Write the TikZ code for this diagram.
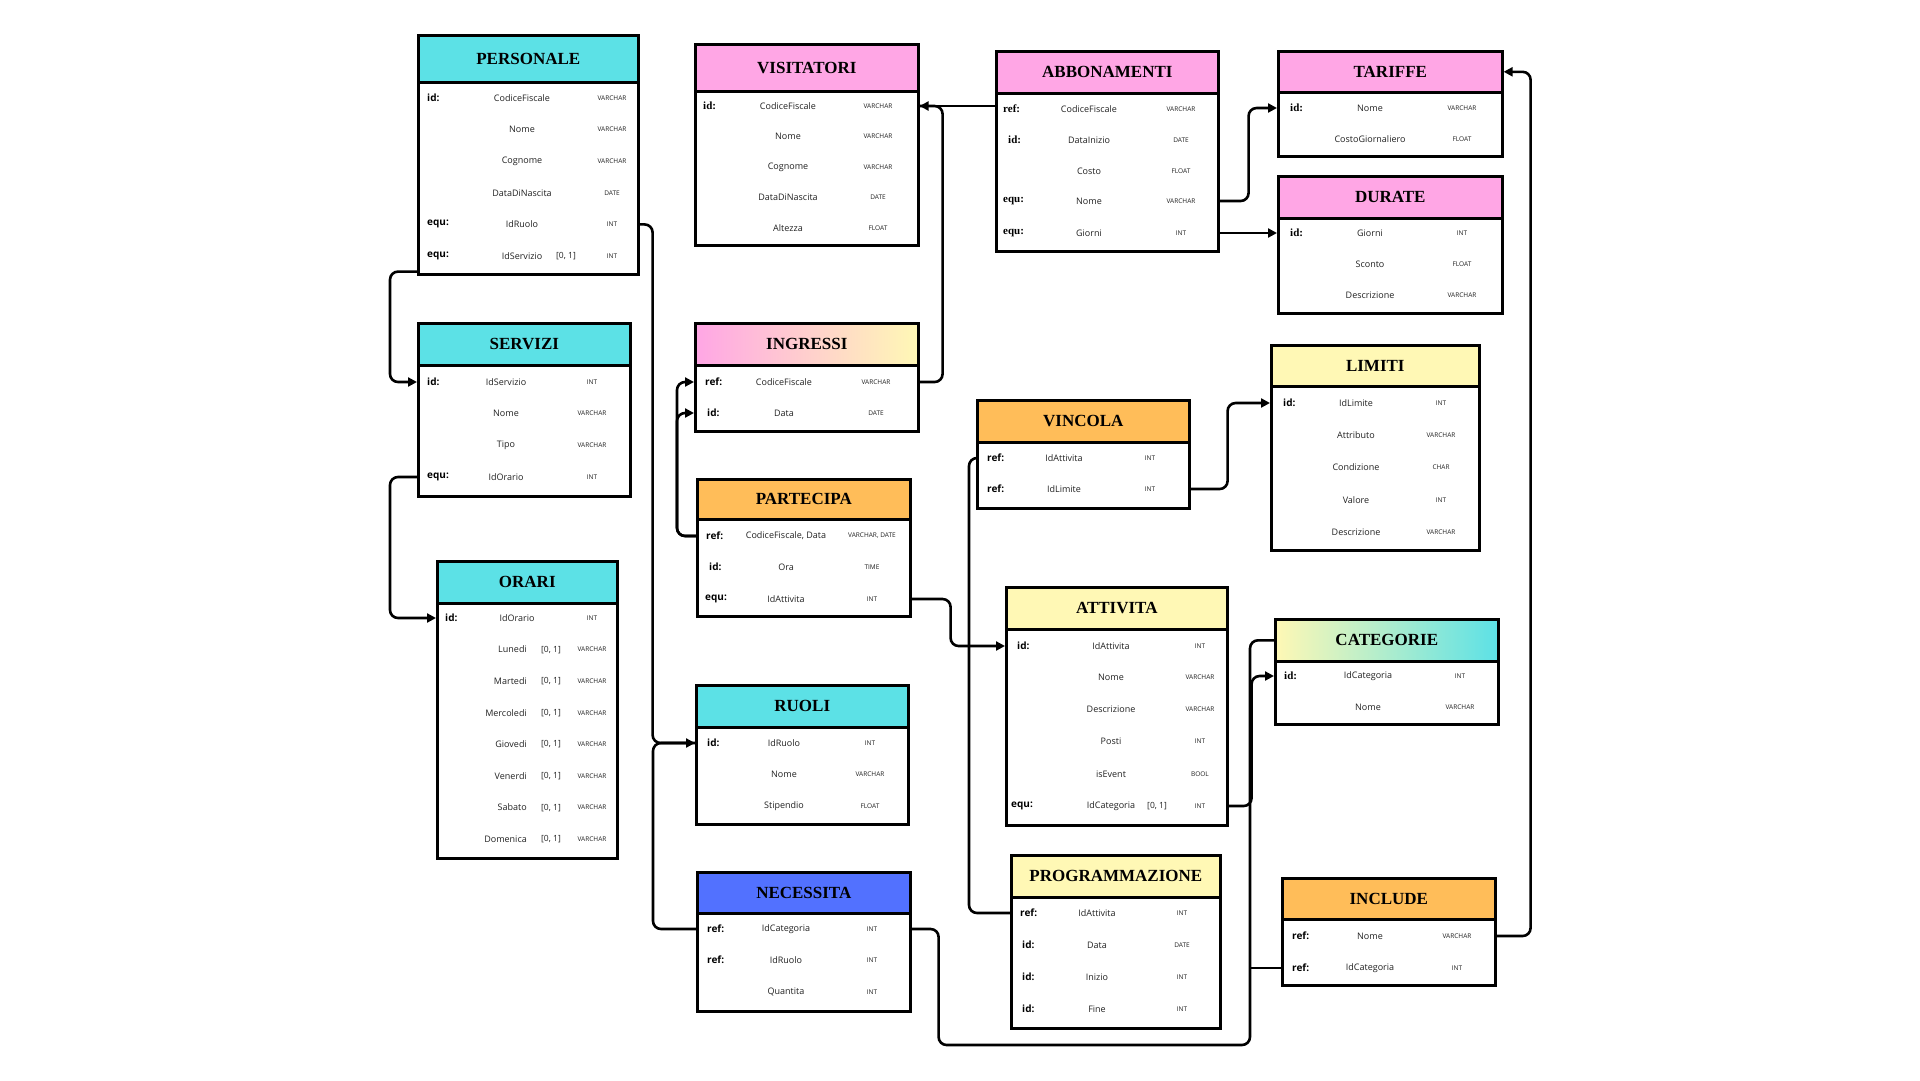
\documentclass[tikz,border=0pt]{standalone}
\usepackage{fontspec}
\setmainfont{Liberation Serif}
\setsansfont{Open Sans}
\usetikzlibrary{arrows.meta}
\definecolor{cyanc}{HTML}{5CE1E6}
\definecolor{pinkc}{HTML}{FFA6E5}
\definecolor{orangec}{HTML}{FFBD59}
\definecolor{yellowc}{HTML}{FFF8B5}
\definecolor{bluec}{HTML}{5271FF}
\definecolor{txtc}{HTML}{222222}
\tikzset{
  hdr/.style={draw=black,line width=2.6pt,inner sep=0pt,font=\rmfamily\bfseries\fontsize{17}{17}\selectfont},
  bodyb/.style={draw=black,fill=white,line width=2.6pt,inner sep=0pt},
  hcyan/.style={fill=cyanc},
  hpink/.style={fill=pinkc},
  horange/.style={fill=orangec},
  hyellow/.style={fill=yellowc},
  hblue/.style={fill=bluec},
  hgradA/.style={left color=pinkc,right color=yellowc},
  hgradB/.style={left color=yellowc,right color=cyanc},
  lbl/.style={inner sep=0pt,anchor=west,text=black,font=\sffamily\bfseries\fontsize{10}{10}\selectfont},
  fld/.style={inner sep=0pt,text=txtc,font=\sffamily\fontsize{9}{9}\selectfont},
  typ/.style={inner sep=0pt,text=txtc,font=\sffamily\fontsize{6.5}{6.5}\selectfont},
  opt/.style={inner sep=0pt,text=txtc,font=\sffamily\fontsize{8.5}{8.5}\selectfont},
  conn/.style={draw=black,line width=2.6pt,rounded corners=8pt},
  arr/.style={-{Triangle[length=9pt,width=9pt]}},
}
% name, left, top, right, header bottom, bottom, fill style, title
\newcommand\tb[8]{%
  \node[hdr,#7,anchor=north west,minimum width={(#4)-(#2)},minimum height={(#5)-(#3)}] (#1-h) at (#2,#3) {#8};
  \node[bodyb,anchor=north west,minimum width={(#4)-(#2)},minimum height={(#6)-(#5)}] (#1) at (#2,#5) {};
}
% name, y, label x, label, field x, field, type x, type
\newcommand\fr[8]{%
  \node[lbl] (#1-l) at (#3,#2) {#4};
  \node[fld] (#1) at (#5,#2) {#6};
  \node[typ] (#1-t) at (#7,#2) {#8};
}
% right-aligned field variant
\newcommand\frr[8]{%
  \node[lbl] (#1-l) at (#3,#2) {#4};
  \node[fld,anchor=east] (#1) at (#5,#2) {#6};
  \node[typ] (#1-t) at (#7,#2) {#8};
}
\newcommand\sr[1]{{\rmfamily\bfseries\fontsize{11}{11}\selectfont #1}}
\begin{document}
\begin{tikzpicture}[x=1pt,y=-1pt]
\useasboundingbox (0,0) rectangle (1920,1080);
\fill[white] (0,0) rectangle (1920,1080);

% ---------- tables ----------
\tb{pers}{417}{34}{637}{81}{273}{hcyan}{PERSONALE}
\fr{pers-1}{98}{427}{id:}{522}{CodiceFiscale}{612}{VARCHAR}
\fr{pers-2}{129.6}{427}{}{522}{Nome}{612}{VARCHAR}
\fr{pers-3}{161.2}{427}{}{522}{Cognome}{612}{VARCHAR}
\fr{pers-4}{192.8}{427}{}{522}{DataDiNascita}{612}{DATE}
\fr{pers-5}{224.4}{427}{equ:}{522}{IdRuolo}{612}{INT}
\fr{pers-6}{256}{427}{equ:}{522}{IdServizio}{612}{INT}
\node[opt] (pers-6-o) at (566,256) {[0, 1]};

\tb{vis}{694}{43}{917}{90}{244}{hpink}{VISITATORI}
\fr{vis-1}{106}{703}{\sr{id:}}{788}{CodiceFiscale}{878}{VARCHAR}
\fr{vis-2}{136.5}{703}{}{788}{Nome}{878}{VARCHAR}
\fr{vis-3}{167}{703}{}{788}{Cognome}{878}{VARCHAR}
\fr{vis-4}{197.5}{703}{}{788}{DataDiNascita}{878}{DATE}
\fr{vis-5}{228}{703}{}{788}{Altezza}{878}{FLOAT}

\tb{abb}{995}{50}{1217}{92}{250}{hpink}{ABBONAMENTI}
\fr{abb-1}{109}{1003}{\sr{ref:}}{1089}{CodiceFiscale}{1181}{VARCHAR}
\fr{abb-2}{140}{1008}{\sr{id:}}{1089}{DataInizio}{1181}{DATE}
\fr{abb-3}{171}{1003}{}{1089}{Costo}{1181}{FLOAT}
\fr{abb-4}{201}{1003}{\sr{equ:}}{1089}{Nome}{1181}{VARCHAR}
\fr{abb-5}{233}{1003}{\sr{equ:}}{1089}{Giorni}{1181}{INT}

\tb{tar}{1277}{50}{1501}{91}{155}{hpink}{TARIFFE}
\fr{tar-1}{108}{1290}{\sr{id:}}{1370}{Nome}{1462}{VARCHAR}
\fr{tar-2}{139}{1290}{}{1370}{CostoGiornaliero}{1462}{FLOAT}

\tb{dur}{1277}{175}{1501}{217}{312}{hpink}{DURATE}
\fr{dur-1}{233}{1290}{\sr{id:}}{1370}{Giorni}{1462}{INT}
\fr{dur-2}{264}{1290}{}{1370}{Sconto}{1462}{FLOAT}
\fr{dur-3}{295}{1290}{}{1370}{Descrizione}{1462}{VARCHAR}

\tb{serv}{417}{322}{629}{364}{495}{hcyan}{SERVIZI}
\fr{serv-1}{382}{427}{id:}{506}{IdServizio}{592}{INT}
\fr{serv-2}{413}{427}{}{506}{Nome}{592}{VARCHAR}
\fr{serv-3}{445}{427}{}{506}{Tipo}{592}{VARCHAR}
\fr{serv-4}{477}{427}{equ:}{506}{IdOrario}{592}{INT}

\tb{ora}{436}{560}{616}{602}{857}{hcyan}{ORARI}
\fr{ora-1}{618}{445}{id:}{517}{IdOrario}{592}{INT}
\frr{ora-2}{649.6}{445}{}{527}{Lunedi}{592}{VARCHAR}
\frr{ora-3}{681.2}{445}{}{527}{Martedi}{592}{VARCHAR}
\frr{ora-4}{712.8}{445}{}{527}{Mercoledi}{592}{VARCHAR}
\frr{ora-5}{744.4}{445}{}{527}{Giovedi}{592}{VARCHAR}
\frr{ora-6}{776}{445}{}{527}{Venerdi}{592}{VARCHAR}
\frr{ora-7}{807.6}{445}{}{527}{Sabato}{592}{VARCHAR}
\frr{ora-8}{839.2}{445}{}{527}{Domenica}{592}{VARCHAR}
\node[opt] (ora-2-o) at (551,649.6) {[0, 1]};
\node[opt] (ora-3-o) at (551,681.2) {[0, 1]};
\node[opt] (ora-4-o) at (551,712.8) {[0, 1]};
\node[opt] (ora-5-o) at (551,744.4) {[0, 1]};
\node[opt] (ora-6-o) at (551,776) {[0, 1]};
\node[opt] (ora-7-o) at (551,807.6) {[0, 1]};
\node[opt] (ora-8-o) at (551,839.2) {[0, 1]};

\tb{ingr}{694}{322}{917}{364}{430}{hgradA}{INGRESSI}
\fr{ingr-1}{382}{705}{ref:}{784}{CodiceFiscale}{876}{VARCHAR}
\fr{ingr-2}{413}{707}{id:}{784}{Data}{876}{DATE}

\tb{part}{696}{478}{909}{518}{615}{horange}{PARTECIPA}
\fr{part-1}{536}{706}{ref:}{786}{CodiceFiscale, Data}{872}{VARCHAR, DATE}
\fr{part-2}{567}{709}{id:}{786}{Ora}{872}{TIME}
\fr{part-3}{599}{705}{equ:}{786}{IdAttivita}{872}{INT}

\tb{ruoli}{695}{684}{907}{726}{823}{hcyan}{RUOLI}
\fr{ruoli-1}{743}{707}{id:}{784}{IdRuolo}{870}{INT}
\fr{ruoli-2}{774}{707}{}{784}{Nome}{870}{VARCHAR}
\fr{ruoli-3}{806}{707}{}{784}{Stipendio}{870}{FLOAT}

\tb{nec}{696}{871}{909}{912}{1010}{hblue}{NECESSITA}
\fr{nec-1}{929}{707}{ref:}{786}{IdCategoria}{872}{INT}
\fr{nec-2}{960}{707}{ref:}{786}{IdRuolo}{872}{INT}
\fr{nec-3}{992}{707}{}{786}{Quantita}{872}{INT}

\tb{vinc}{976}{399}{1188}{441}{507}{horange}{VINCOLA}
\fr{vinc-1}{458}{987}{ref:}{1064}{IdAttivita}{1150}{INT}
\fr{vinc-2}{489}{987}{ref:}{1064}{IdLimite}{1150}{INT}

\tb{lim}{1270}{344}{1478}{385}{549}{hyellow}{LIMITI}
\fr{lim-1}{403}{1283}{id:}{1356}{IdLimite}{1441}{INT}
\fr{lim-2}{435}{1283}{}{1356}{Attributo}{1441}{VARCHAR}
\fr{lim-3}{467}{1283}{}{1356}{Condizione}{1441}{CHAR}
\fr{lim-4}{500}{1283}{}{1356}{Valore}{1441}{INT}
\fr{lim-5}{532}{1283}{}{1356}{Descrizione}{1441}{VARCHAR}

\tb{att}{1005}{586}{1226}{628}{824}{hyellow}{ATTIVITA}
\fr{att-1}{646}{1017}{id:}{1111}{IdAttivita}{1200}{INT}
\fr{att-2}{677}{1014}{}{1111}{Nome}{1200}{VARCHAR}
\fr{att-3}{709}{1014}{}{1111}{Descrizione}{1200}{VARCHAR}
\fr{att-4}{741}{1014}{}{1111}{Posti}{1200}{INT}
\fr{att-5}{774}{1014}{}{1111}{isEvent}{1200}{BOOL}
\fr{att-6}{806}{1011}{equ:}{1111}{IdCategoria}{1200}{INT}
\node[opt] (att-6-o) at (1157,806) {[0, 1]};

\tb{cat}{1274}{618}{1497}{660}{723}{hgradB}{CATEGORIE}
\fr{cat-1}{676}{1284}{\sr{id:}}{1368}{IdCategoria}{1460}{INT}
\fr{cat-2}{707}{1284}{}{1368}{Nome}{1460}{VARCHAR}

\tb{prog}{1010}{854}{1219}{896}{1027}{hyellow}{PROGRAMMAZIONE}
\fr{prog-1}{913}{1020}{ref:}{1097}{IdAttivita}{1182}{INT}
\fr{prog-2}{945}{1022}{id:}{1097}{Data}{1182}{DATE}
\fr{prog-3}{977}{1022}{id:}{1097}{Inizio}{1182}{INT}
\fr{prog-4}{1009}{1022}{id:}{1097}{Fine}{1182}{INT}

\tb{incl}{1281}{877}{1494}{918}{984}{horange}{INCLUDE}
\fr{incl-1}{936}{1292}{ref:}{1370}{Nome}{1457}{VARCHAR}
\fr{incl-2}{968}{1292}{ref:}{1370}{IdCategoria}{1457}{INT}

% ---------- connectors ----------
\coordinate (busB) at (1250,1045);
\draw[conn,arr] ([yshift=4pt]pers.south west) -- ++(-27,0) |- (serv.west |- serv-1);
\draw[conn,arr] (serv.west |- serv-4) -- ++(-27,0) |- (ora.west |- ora-1);
\draw[conn,arr] (pers.east |- pers-5) -- ++(13,0) |- (ruoli.west |- ruoli-1);
\draw[conn] (nec.west |- nec-1) -- ++(-43,0) |- (ruoli.west |- ruoli-1);
\draw[conn,arr] (part.west |- part-1) -- ++(-19,0) |- (ingr.west |- ingr-1);
\draw[conn,arr] (part.west |- part-1) -- ++(-19,0) |- (ingr.west |- ingr-2);
\draw[conn] (ingr.east |- ingr-1) -- ++(23,0) |- (vis.east |- vis-1);
\draw[conn,arr] (abb.west |- vis-1) -- (vis.east |- vis-1);
\draw[conn,arr] (abb.east |- abb-4) -- ++(29,0) |- (tar.west |- tar-1);
\draw[conn,arr] (abb.east |- abb-5) -- (dur.west |- abb-5);
\draw[conn,arr] (part.east |- part-3) -- ++(39,0) |- (att.west |- att-1);
\draw[conn] (vinc.west |- vinc-1) -- ++(-7,0) |- (prog.west |- prog-1);
\draw[conn,arr] (vinc.east |- vinc-2) -- ++(37,0) |- (lim.west |- lim-1);
\draw[conn,arr] (att.east |- att-6) -- ++(23,0) |- (cat.west |- cat-1);
\draw[conn] (nec.east |- nec-1) -- ++(27,0) |- (busB) -- (busB |- cat-h) -- (cat.west |- cat-h);
\draw[conn] (incl.west |- incl-2) -- (busB |- incl-2);
\draw[conn,arr] (incl.east |- incl-1) -- ++(34,0) |- (tar.east |- tar-h);
\end{tikzpicture}
\end{document}
